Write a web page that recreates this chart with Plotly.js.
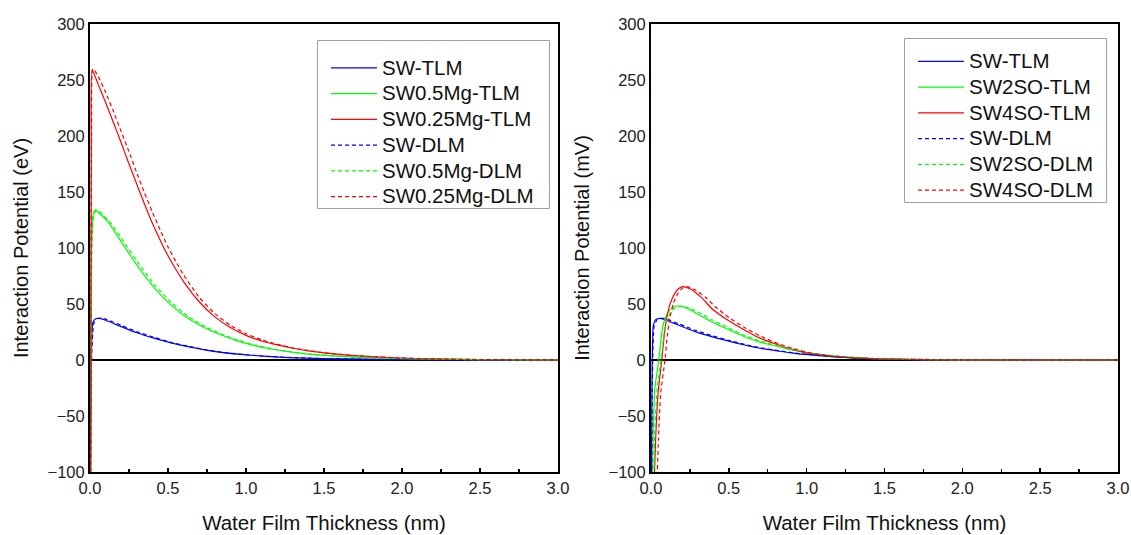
<!DOCTYPE html>
<html>
<head>
<meta charset="utf-8">
<script src="https://cdn.plot.ly/plotly-3.0.1.min.js"></script>
<style>html,body{margin:0;padding:0;background:#fff;}#chart{width:1131px;height:535px;}</style>
</head>
<body>
<div id="chart"></div>
<script>
// ---------- Left panel (eV) ----------
const L_SW_TLM_x = [0.002,0.005,0.008,0.019,0.04,0.062,0.1,0.2,0.3,0.415,0.52,0.628,0.735,0.842,0.95,1.056,1.16,1.27,1.5,2.0,2.5,3.0];
const L_SW_TLM_y = [-150,-40,0,34,37,37.2,35.5,29.8,24.3,19.3,15.3,11.9,9.1,6.8,5.2,4,3,2.2,1.2,0.3,0.05,0];
const L_SW_DLM_x = [0.003,0.006,0.01,0.025,0.05,0.075,0.1,0.2,0.3,0.415,0.52,0.628,0.735,0.842,0.95,1.056,1.16,1.27,1.5,2.0,2.5,3.0];
const L_SW_DLM_y = [-150,-40,0,33,37,37.5,36.5,31,25.3,20,15.8,12.3,9.4,7,5.3,4.1,3.1,2.3,1.2,0.3,0.05,0];

const L_05Mg_TLM_x = [0.003,0.01,0.02,0.034,0.06,0.115,0.2,0.308,0.415,0.52,0.628,0.735,0.842,0.95,1.056,1.16,1.27,1.4,1.53,1.7,2.0,2.5,3.0];
const L_05Mg_TLM_y = [-150,100,130,134,131,123.5,105.6,83.3,64,49,37.2,28.8,22.3,16.8,12.8,9.8,7.4,5.3,3.9,2.5,1.2,0.3,0.05];
const L_05Mg_DLM_x = [0.003,0.012,0.025,0.045,0.08,0.135,0.2,0.308,0.415,0.52,0.628,0.735,0.842,0.95,1.056,1.16,1.27,1.4,1.53,1.7,2.0,2.5,3.0];
const L_05Mg_DLM_y = [-150,100,130,134,130,122,109,87,67,51.5,39,30,23.2,17.5,13.3,10.1,7.6,5.4,4,2.6,1.2,0.3,0.05];

const L_025Mg_TLM_x = [0.003,0.008,0.013,0.05,0.1,0.15,0.2,0.25,0.3,0.35,0.4,0.45,0.5,0.55,0.6,0.7,0.8,0.9,1.0,1.1,1.2,1.3,1.4,1.5,1.6,1.7,1.8,2.0,2.2,2.5,3.0];
const L_025Mg_TLM_y = [-150,180,259,247,230,212,194,175,157,139,122,107,93,81,70,52,38.5,29,22,17,13.5,10.5,8.2,6.4,5,3.9,3,1.7,1,0.4,0.1];
const L_025Mg_DLM_x = [0.003,0.01,0.018,0.05,0.1,0.15,0.2,0.25,0.3,0.35,0.4,0.45,0.5,0.55,0.6,0.7,0.8,0.9,1.0,1.1,1.2,1.3,1.4,1.5,1.6,1.7,1.8,2.0,2.2,2.5,3.0];
const L_025Mg_DLM_y = [-150,200,260,254,239,222,204,186,167,149,132,116,101,88,76,56,41.5,31,23.5,18,14,10.8,8.4,6.5,5,3.9,3,1.7,1,0.4,0.1];

// ---------- Right panel (mV) ----------
const R_SW_TLM_x = [0.003,0.005,0.008,0.015,0.03,0.058,0.1,0.175,0.28,0.39,0.5,0.6,0.7,0.82,0.92,1.03,1.18,1.4,1.6,2.0,3.0];
const R_SW_TLM_y = [-110,-50,0,31,36,37.2,35.5,31.2,25.5,20.8,16.8,13.4,10.5,8,6,4.5,2.7,1.2,0.5,0.1,0];
const R_SW_DLM_x = [0.004,0.007,0.011,0.02,0.04,0.07,0.1,0.175,0.28,0.39,0.5,0.6,0.7,0.82,0.92,1.03,1.18,1.4,1.6,2.0,3.0];
const R_SW_DLM_y = [-110,-50,0,30,36,37.5,36.5,32.5,26.8,21.8,17.5,14,11,8.3,6.3,4.7,2.9,1.3,0.5,0.1,0];

const R_2SO_TLM_x = [0.009,0.015,0.025,0.05,0.07,0.09,0.12,0.165,0.22,0.3,0.39,0.5,0.6,0.7,0.82,0.92,1.03,1.18,1.4,1.6,2.0,3.0];
const R_2SO_TLM_y = [-110,-60,-25,0,25,37,44.5,48.2,47,41,34.2,27,20.8,16,11.9,8.5,6,3.5,1.5,0.6,0.1,0];
const R_2SO_DLM_x = [0.018,0.025,0.04,0.065,0.085,0.105,0.14,0.185,0.24,0.3,0.39,0.5,0.6,0.7,0.82,0.92,1.03,1.18,1.4,1.6,2.0,3.0];
const R_2SO_DLM_y = [-110,-60,-25,0,25,37,45,48,46.5,43,36,28.5,22,17,12.5,9,6.3,3.7,1.6,0.7,0.1,0];

const R_4SO_TLM_x = [0.02,0.03,0.045,0.069,0.085,0.1,0.125,0.155,0.18,0.207,0.26,0.33,0.39,0.5,0.6,0.7,0.82,0.92,1.03,1.18,1.4,1.6,2.0,3.0];
const R_4SO_TLM_y = [-110,-70,-30,0,22,37,51,60,64,65.5,63,55,46,35,26.8,19.5,13.4,9,5.4,3,1.2,0.5,0.1,0];
const R_4SO_DLM_x = [0.038,0.048,0.062,0.09,0.105,0.12,0.145,0.175,0.2,0.228,0.28,0.35,0.41,0.5,0.6,0.7,0.82,0.92,1.03,1.18,1.4,1.6,2.0,3.0];
const R_4SO_DLM_y = [-110,-70,-30,0,22,37,51,60,64,65.5,63,56,48,38,29,21.5,14.5,10,6,3.3,1.3,0.5,0.1,0];

const leftNames = ['SW-TLM','SW0.5Mg-TLM','SW0.25Mg-TLM','SW-DLM','SW0.5Mg-DLM','SW0.25Mg-DLM'];
const rightNames = ['SW-TLM','SW2SO-TLM','SW4SO-TLM','SW-DLM','SW2SO-DLM','SW4SO-DLM'];
const xTickVals = [0,0.5,1,1.5,2,2.5,3];
const xTickText = ['0.0','0.5','1.0','1.5','2.0','2.5','3.0'];
const yTickVals = [-100,-50,0,50,100,150,200,250,300];

const BLUE = '#0000ff', GREEN = '#00ff00', RED = '#ff0000';
const DASH = '4px,3px';

function tr(x, y, name, color, dashed, side, group) {
  return {
    x: x, y: y, type: 'scatter', mode: 'lines',
    name: '<span style="font-size:20.5px">' + name + '</span>',
    line: {color: color, width: 1.2, dash: dashed ? DASH : 'solid', shape: 'spline', smoothing: 0.5},
    xaxis: side === 'L' ? 'x' : 'x2', yaxis: side === 'L' ? 'y' : 'y2',
    legend: side === 'L' ? 'legend' : 'legend2', legendgroup: side + group
  };
}

const data = [
  tr(L_SW_TLM_x, L_SW_TLM_y, leftNames[0], BLUE, false, 'L', 1),
  tr(L_05Mg_TLM_x, L_05Mg_TLM_y, leftNames[1], GREEN, false, 'L', 2),
  tr(L_025Mg_TLM_x, L_025Mg_TLM_y, leftNames[2], RED, false, 'L', 3),
  tr(L_SW_DLM_x, L_SW_DLM_y, leftNames[3], BLUE, true, 'L', 4),
  tr(L_05Mg_DLM_x, L_05Mg_DLM_y, leftNames[4], GREEN, true, 'L', 5),
  tr(L_025Mg_DLM_x, L_025Mg_DLM_y, leftNames[5], RED, true, 'L', 6),
  tr(R_SW_TLM_x, R_SW_TLM_y, rightNames[0], BLUE, false, 'R', 1),
  tr(R_2SO_TLM_x, R_2SO_TLM_y, rightNames[1], GREEN, false, 'R', 2),
  tr(R_4SO_TLM_x, R_4SO_TLM_y, rightNames[2], RED, false, 'R', 3),
  tr(R_SW_DLM_x, R_SW_DLM_y, rightNames[3], BLUE, true, 'R', 4),
  tr(R_2SO_DLM_x, R_2SO_DLM_y, rightNames[4], GREEN, true, 'R', 5),
  tr(R_4SO_DLM_x, R_4SO_DLM_y, rightNames[5], RED, true, 'R', 6)
];

const FONT = 'Arial, "Liberation Sans", sans-serif';
function xax(domain, anchor) {
  return {
    domain: domain, anchor: anchor, range: [0, 3], fixedrange: true,
    tickvals: xTickVals, ticktext: xTickText, ticks: 'inside', ticklen: 4, tickwidth: 1.5, tickcolor: '#000',
    minor: {dtick: 0.25, tick0: 0, ticks: 'inside', ticklen: 3, tickwidth: 1.2, tickcolor: '#000', showgrid: false},
    showline: true, linecolor: '#000', linewidth: 2, mirror: true,
    showgrid: false, zeroline: false, automargin: false,
    tickfont: {family: FONT, size: 16.5, color: '#222'},
    title: {text: 'Water Film Thickness (nm)', font: {family: FONT, size: 20.5, color: '#111'}, standoff: 20}
  };
}
function yax(domain, anchor, title) {
  return {
    domain: domain, anchor: anchor, range: [-100, 300], fixedrange: true,
    tickvals: yTickVals, ticks: '', showline: true, linecolor: '#000', linewidth: 2, mirror: true,
    showgrid: false, zeroline: true, zerolinecolor: '#000', zerolinewidth: 2, automargin: false,
    tickfont: {family: FONT, size: 16.5, color: '#222'},
    title: {text: title, font: {family: FONT, size: 20, color: '#111'}, standoff: 14}
  };
}

const W = 1131, H = 535;
const yDom = [1 - 472 / H, 1 - 24 / H];
const legendStyle = {
  bgcolor: 'rgba(0,0,0,0)', borderwidth: 0,
  font: {family: FONT, size: 17.5, color: '#111'},
  itemwidth: 46, indentation: 9,
  xanchor: 'left', yanchor: 'top', traceorder: 'normal', tracegroupgap: 0
};
function box(x0, y0, x1, y1) {
  return {type: 'rect', xref: 'paper', yref: 'paper', layer: 'above',
    x0: x0 / W, x1: x1 / W, y0: 1 - y0 / H, y1: 1 - y1 / H,
    line: {color: '#a0a0a0', width: 1}, fillcolor: '#fff'};
}
const layout = {
  width: W, height: H, margin: {l: 0, r: 0, t: 0, b: 0},
  paper_bgcolor: '#fff', plot_bgcolor: '#fff', showlegend: true,
  xaxis: xax([90 / W, 558 / W], 'y'),
  yaxis: yax(yDom, 'x', 'Interaction Potential (eV)'),
  xaxis2: xax([651 / W, 1118 / W], 'y2'),
  yaxis2: yax(yDom, 'x2', 'Interaction Potential (mV)'),
  legend: Object.assign({x: 317 / W, y: 1 - 50 / H}, legendStyle),
  legend2: Object.assign({x: 904 / W, y: 1 - 43.5 / H}, legendStyle),
  shapes: [box(317.5, 40.5, 549.5, 208.5), box(904.5, 38.5, 1106.5, 202.5)]
};

Plotly.newPlot('chart', data, layout, {staticPlot: true, displayModeBar: false});
</script>
</body>
</html>
